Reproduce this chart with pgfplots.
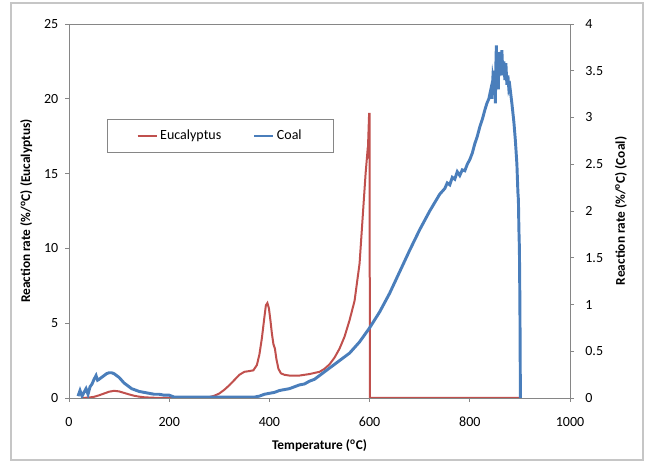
\documentclass[border=0pt]{standalone}
\usepackage{pgfplots}
\pgfplotsset{compat=1.18}
\usepackage{fontspec}
\setmainfont{Carlito}
\definecolor{euc}{RGB}{192,80,77}
\definecolor{coal}{RGB}{74,126,187}
\definecolor{axgray}{RGB}{134,134,134}

\pgfplotsset{
  common/.style={
    scale only axis, width=375.75pt, height=280.5pt,
    xmin=0, xmax=1000,
    axis line style={axgray}, tick style={axgray, line width=0.6pt},
    major tick length=3pt, tick align=outside,
    /pgf/number format/assume math mode=true,
    /pgf/number format/1000 sep={},
    tick label style={font=\fontsize{10.5}{12}\selectfont},
    label style={font=\bfseries\fontsize{10}{12}\selectfont},
  },
}

\begin{document}
\begin{tikzpicture}
\useasboundingbox (0,0) rectangle (483.75pt,347.25pt);
\draw[gray!45, line width=0.8pt] (8.25pt,2.25pt) rectangle (482.25pt,345pt);

\begin{axis}[common, at={(51.75pt,48.75pt)}, anchor=origin,
  ymin=0, ymax=25,
  xtick={0,200,...,1000}, ytick={0,5,...,25},
  xtick pos=bottom, ytick pos=left,
  xticklabel style={yshift=-8pt},
  yticklabel style={xshift=-1.5pt},
  xlabel={Temperature (\textsuperscript{o}C)},
  xlabel style={yshift=-2.5pt},
  ylabel={Reaction rate (\%/\textsuperscript{o}C) (Eucalyptus)},
  ylabel style={yshift=2pt},
  legend columns=2,
  legend style={at={(rel axis cs:0.0758,0.746)}, anchor=north west,
    draw=axgray, inner xsep=22pt, inner ysep=6pt,
    font=\fontsize{10.5}{12}\selectfont,
    /tikz/every even column/.append style={column sep=22pt}},
  legend image code/.code={\draw[#1] (0cm,0cm) -- (0.5cm,0cm);},
]
\addplot[euc, line width=1.5pt] coordinates {
(25,0.0)(40,0.03)(50,0.08)(60,0.18)(70,0.3)(80,0.42)(90,0.48)(100,0.44)
(110,0.34)(120,0.24)(130,0.15)(140,0.09)(150,0.05)(160,0.03)(175,0.01)
(190,0.0)(250,0.0)(270,0.02)(280,0.06)(290,0.15)(300,0.3)(310,0.55)
(320,0.85)(330,1.2)(340,1.55)(350,1.75)(360,1.8)(368,1.85)(375,2.2)
(380,2.9)(385,4.0)(390,5.4)(393,6.2)(396,6.35)(399,6.0)(402,5.2)
(405,4.3)(408,3.6)(411,3.3)(414,2.6)(418,1.95)(423,1.65)(430,1.55)
(440,1.5)(460,1.5)(480,1.6)(500,1.75)(510,1.95)(520,2.25)(530,2.7)
(540,3.3)(550,4.1)(560,5.2)(570,6.5)(580,9.0)(587,12.5)(592,15.0)
(595,16.2)(596,16.0)(598,18.0)(599,19.0)(600,19.0)(600.5,0)(900,0)
};
\addlegendentry{Eucalyptus}
\addlegendimage{coal, line width=1.5pt}
\addlegendentry{Coal}
\end{axis}

\begin{axis}[common, at={(51.75pt,48.75pt)}, anchor=origin,
  ymin=0, ymax=4,
  axis x line=none, axis y line*=right,
  ytick={0,0.5,...,4},
  yticklabel style={xshift=5pt},
  ylabel={Reaction rate (\%/\textsuperscript{o}C) (Coal)},
  ylabel style={yshift=-2pt},
]
\addplot[coal, line width=2.2pt] coordinates {
(18,0.02)(22,0.08)(26,0.02)(30,0.06)(34,0.1)(38,0.04)(42,0.12)(46,0.15)
(50,0.2)(54,0.24)(57,0.19)(60,0.2)(65,0.22)(70,0.24)(75,0.26)(80,0.27)
(85,0.27)(90,0.26)(95,0.24)(100,0.22)(105,0.19)(110,0.16)(115,0.14)
(120,0.12)(125,0.1)(130,0.09)(140,0.07)(150,0.06)(160,0.05)(170,0.04)
(180,0.04)(190,0.03)(200,0.03)(210,0.01)(300,0.01)(370,0.01)(380,0.02)
(390,0.04)(400,0.05)(410,0.06)(420,0.08)(430,0.09)(440,0.1)(450,0.12)
(460,0.14)(470,0.15)(480,0.18)(490,0.2)(500,0.24)(510,0.28)(520,0.32)
(540,0.4)(560,0.48)(580,0.6)(600,0.75)(620,0.92)(640,1.12)(660,1.35)
(680,1.58)(700,1.8)(720,2.0)(740,2.18)(750,2.24)(755,2.3)(760,2.28)
(765,2.36)(770,2.34)(775,2.42)(780,2.38)(785,2.44)(790,2.43)(795,2.5)
(800,2.55)(805,2.62)(810,2.72)(815,2.8)(820,2.9)(825,2.98)(830,3.08)
(834,3.15)(838,3.2)(840,3.25)(842,3.3)(844,3.2)(846,3.42)(848,3.35)
(850,3.5)(851,3.15)(852,3.55)(853,3.77)(854,3.4)(856,3.6)(857,3.3)
(858,3.7)(860,3.45)(862,3.55)(864,3.72)(866,3.45)(868,3.6)(870,3.4)
(872,3.58)(874,3.35)(876,3.45)(878,3.3)(880,3.33)(884,3.15)(888,2.95)
(891,2.75)(894,2.5)(896,2.2)(897,2.12)(898,1.8)(899,1.6)(900,1.0)(901,0.0)
};
\end{axis}
\end{tikzpicture}
\end{document}
